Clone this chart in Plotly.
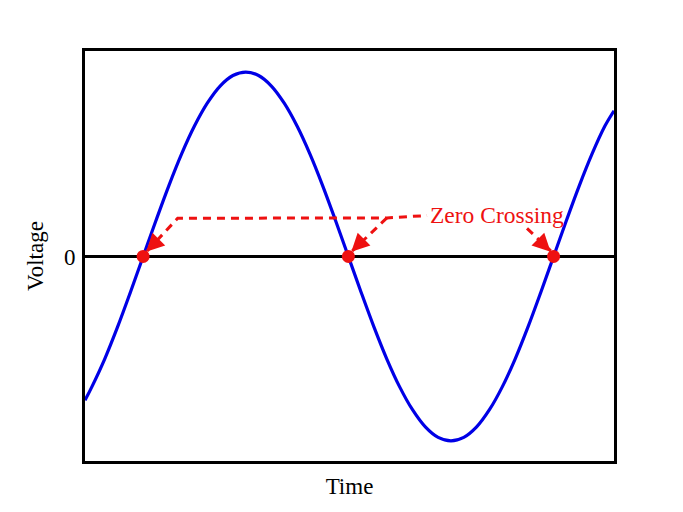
import plotly.graph_objects as go

# Sampled waveform (time in degrees of phase, voltage normalized)
time = [-51, -45, -33.75, -22.5, -11.25, 0, 11.25, 22.5, 33.75, 45, 56.25, 67.5, 78.75, 90,
        101.25, 112.5, 123.75, 135, 146.25, 157.5, 168.75, 180,
        191.25, 202.5, 213.75, 225, 236.25, 247.5, 258.75, 270,
        281.25, 292.5, 303.75, 315, 326.25, 337.5, 348.75, 360,
        371.25, 382.5, 393.75, 405, 413]
voltage = [-0.78, -0.707, -0.556, -0.383, -0.195, 0.0, 0.195, 0.383, 0.556, 0.707, 0.831, 0.924, 0.981, 1.0,
           0.981, 0.924, 0.831, 0.707, 0.556, 0.383, 0.195, 0.0,
           -0.195, -0.383, -0.556, -0.707, -0.831, -0.924, -0.981, -1.0,
           -0.981, -0.924, -0.831, -0.707, -0.556, -0.383, -0.195, 0.0,
           0.195, 0.383, 0.556, 0.707, 0.79]

# Zero crossings
cross_t = [0, 180, 360]
cross_v = [0, 0, 0]

# Callout path (data coords)
callout_main_x = [3.5, 30.3, 213.8, 249]
callout_main_y = [0.03, 0.207, 0.209, 0.222]
callout_branch_x = [213.8, 183.5]
callout_branch_y = [0.209, 0.03]
callout_right_x = [336.7, 357.5]
callout_right_y = [0.152, 0.03]
label_text = "Zero Crossing"
label_pos = (250, 0.223)

RED = "#ee1111"
BLUE = "#0000e6"
FONT = "Liberation Serif"

fig = go.Figure()

fig.add_trace(go.Scatter(x=time, y=voltage, mode="lines", line_shape="spline",
                         line=dict(color=BLUE, width=3.2, smoothing=1.0), hoverinfo="skip"))

for xs, ys in [(callout_main_x, callout_main_y), (callout_branch_x, callout_branch_y),
               (callout_right_x, callout_right_y)]:
    fig.add_trace(go.Scatter(x=xs, y=ys, mode="lines",
                             line=dict(color=RED, width=3, dash="8px,6px"), hoverinfo="skip"))

fig.add_trace(go.Scatter(x=cross_t, y=cross_v, mode="markers",
                         marker=dict(color=RED, size=13), hoverinfo="skip"))

# arrowheads
for tx, ax_dir in zip(cross_t, [1, 1, -1]):
    fig.add_annotation(x=tx + 2.6 * ax_dir, y=0.025, ax=11 * ax_dir, ay=-11, text="",
                       showarrow=True, arrowhead=2, arrowsize=1.2, arrowwidth=3,
                       arrowcolor=RED)

fig.add_annotation(x=label_pos[0], y=label_pos[1], text=label_text, showarrow=False,
                   xanchor="left", yanchor="middle",
                   font=dict(family=FONT, size=23.5, color=RED))

fig.update_layout(
    width=675, height=504,
    margin=dict(l=77, r=69, t=43, b=51),
    paper_bgcolor="white", plot_bgcolor="white",
    showlegend=False,
    font=dict(family=FONT, size=23, color="black"),
    xaxis=dict(range=[-51, 413], showgrid=False, zeroline=False, showticklabels=False,
               ticks="", showline=True, mirror=True, linecolor="black", linewidth=3,
               title=dict(text="Time", standoff=15, font=dict(family=FONT, size=23))),
    yaxis=dict(range=[-1.109, 1.114], showgrid=False, zeroline=True, zerolinecolor="black",
               zerolinewidth=3, tickvals=[0], ticktext=["0"], ticks="",
               ticklabelstandoff=2,
               showline=True, mirror=True, linecolor="black", linewidth=3,
               title=dict(text="Voltage", standoff=14, font=dict(family=FONT, size=23))),
)

fig.write_html("out.html")
